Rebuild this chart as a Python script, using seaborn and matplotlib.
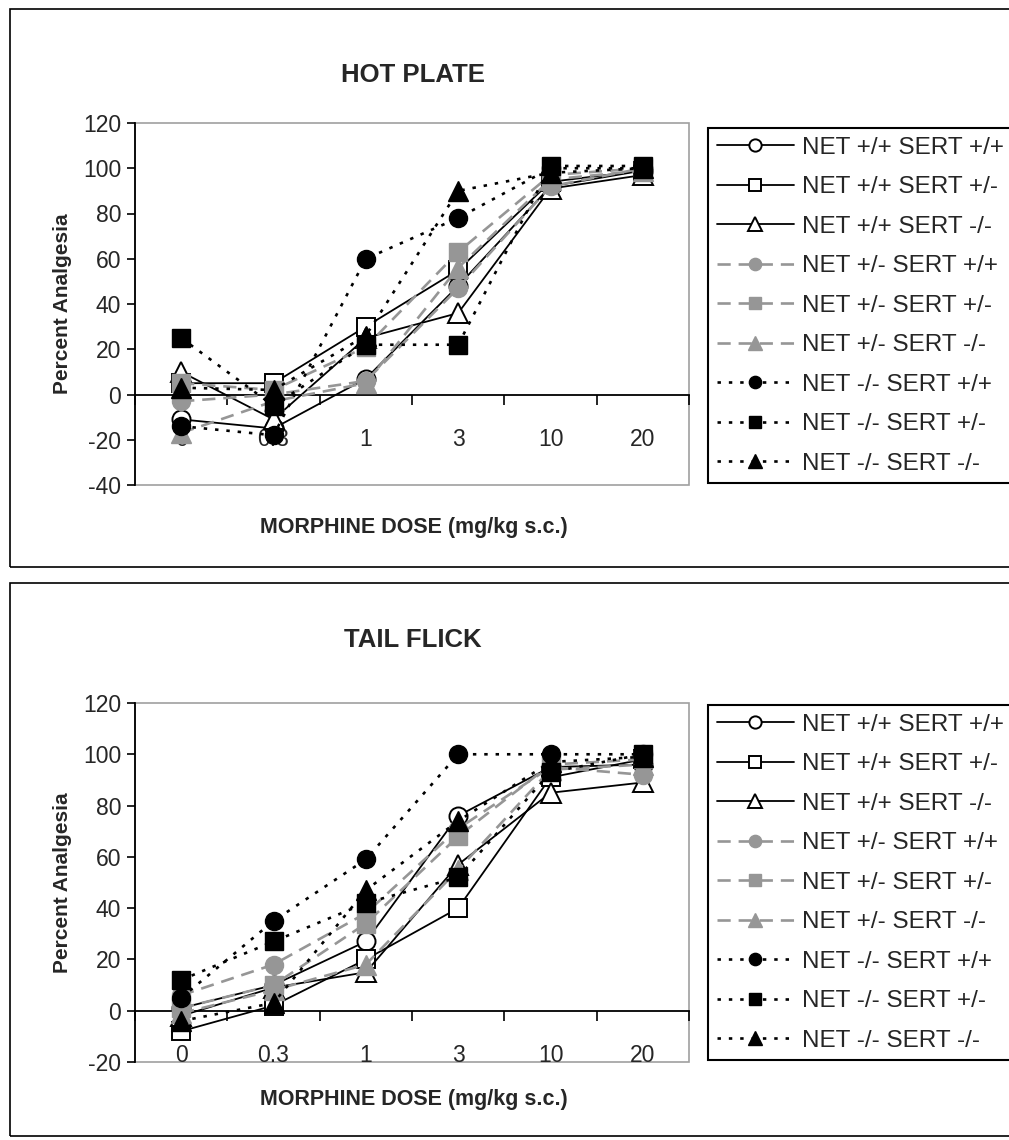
import numpy as np
import pandas as pd
import matplotlib
matplotlib.use("Agg")
import matplotlib.pyplot as plt
from matplotlib.patches import Rectangle
import seaborn as sns

sns.set_theme(style="white")
plt.rcParams['font.family'] = ['Liberation Sans', 'DejaVu Sans']

# ---------------- data ----------------
DOSES = ["0", "0.3", "1", "3", "10", "20"]
GENOTYPES = [
    "NET +/+ SERT +/+", "NET +/+ SERT +/-", "NET +/+ SERT -/-",
    "NET +/- SERT +/+", "NET +/- SERT +/-", "NET +/- SERT -/-",
    "NET -/- SERT +/+", "NET -/- SERT +/-", "NET -/- SERT -/-",
]

# HOT PLATE (percent analgesia)
hp_wt_wt = [-11, -15, 7, 48, 92, 99]
hp_wt_het = [5, 5, 30, 55, 94, 99]
hp_wt_ko = [10, -11, 25, 36, 91, 97]
hp_het_wt = [-3, 0, 6, 47, 92, 100]
hp_het_het = [5, 2, 21, 63, 97, 100]
hp_het_ko = [-17, -3, 5, 56, 95, 99]
hp_ko_wt = [-14, -18, 60, 78, 100, 100]
hp_ko_het = [25, -5, 22, 22, 101, 101]
hp_ko_ko = [3, 2, 26, 90, 98, 100]

# TAIL FLICK (percent analgesia)
tf_wt_wt = [1, 10, 27, 76, 95, 96]
tf_wt_het = [-8, 2, 20, 40, 91, 98]
tf_wt_ko = [-2, 9, 15, 57, 85, 89]
tf_het_wt = [6, 18, 38, 71, 95, 92]
tf_het_het = [1, 10, 34, 68, 96, 98]
tf_het_ko = [-1, 8, 18, 55, 94, 96]
tf_ko_wt = [5, 35, 59, 100, 100, 100]
tf_ko_het = [12, 27, 42, 52, 93, 100]
tf_ko_ko = [-4, 3, 47, 74, 97, 99]

HOT = [hp_wt_wt, hp_wt_het, hp_wt_ko, hp_het_wt, hp_het_het, hp_het_ko,
       hp_ko_wt, hp_ko_het, hp_ko_ko]
TAIL = [tf_wt_wt, tf_wt_het, tf_wt_ko, tf_het_wt, tf_het_het, tf_het_ko,
        tf_ko_wt, tf_ko_het, tf_ko_ko]

# ---------------- styles ----------------
GRAY = "#969696"
MARKERS = ["o", "s", "^"] * 3
styles = []
for i in range(9):
    grp = i // 3
    if grp == 0:
        styles.append(dict(color="black", mfc="white", mec="black",
                           ls="-", lw=1.3, mew=1.4))
    elif grp == 1:
        styles.append(dict(color=GRAY, mfc=GRAY, mec=GRAY,
                           ls=(0, (5, 3)), lw=1.9, mew=1.0))
    else:
        styles.append(dict(color="black", mfc="black", mec="black",
                           ls=(0, (1.3, 3.0)), lw=1.9, mew=1.0))

W, H = 1009, 1140
fig = plt.figure(figsize=(W / 100, H / 100), dpi=100)


def fx(px):
    return px / W


def fy(py):
    return 1 - py / H


def panel(title, series, ylim, yticks, box, ax_px, leg_px, title_y, xlabel_y):
    # outer chart-area frame
    x0, y0, x1, y1 = box
    fig.add_artist(Rectangle((fx(x0), fy(y1)), fx(x1) - fx(x0), fy(y0) - fy(y1),
                             transform=fig.transFigure, fill=False,
                             edgecolor="black", lw=1.2))
    l, t, r, b = ax_px
    ax = fig.add_axes([fx(l), fy(b), fx(r) - fx(l), fy(t) - fy(b)])
    pos = np.arange(len(DOSES))
    for i, (lab, vals) in enumerate(zip(GENOTYPES, series)):
        st = styles[i]
        df = pd.DataFrame({"pos": pos, "val": vals})
        ms = 14 if MARKERS[i] == "^" else 13
        sns.lineplot(data=df, x="pos", y="val", ax=ax, color=st["color"],
                     linestyle=st["ls"], linewidth=st["lw"], marker=MARKERS[i],
                     markersize=ms, markerfacecolor=st["mfc"],
                     markeredgecolor=st["mec"], markeredgewidth=st["mew"],
                     label=lab, zorder=3 + i, legend=False)
    ax.set_xlim(-0.5, len(DOSES) - 0.5)
    ax.set_ylim(*ylim)
    ax.set_yticks(yticks)
    ax.set_yticklabels([str(v) for v in yticks])
    # x axis crossing at y = 0, ticks between categories
    ax.spines["bottom"].set_position(("data", 0))
    ax.set_xticks(np.arange(len(DOSES) + 1) - 0.5)
    ax.set_xticklabels([])
    ax.set_xticks(pos, minor=True)
    ax.set_xticklabels(DOSES, minor=True)
    ax.tick_params(axis="x", which="major", direction="out", length=7,
                   width=1.2, color="black", bottom=True)
    ax.tick_params(axis="x", which="minor", length=0, pad=24, labelsize=16.5)
    ax.tick_params(axis="y", which="major", direction="out", length=6,
                   width=1.2, color="black", left=True, labelsize=16.5, pad=4)
    for s in ["top", "right"]:
        ax.spines[s].set_visible(False)
    ax.spines["left"].set_color("black")
    ax.spines["left"].set_linewidth(1.3)
    ax.spines["bottom"].set_color("black")
    ax.spines["bottom"].set_linewidth(1.3)
    ax.add_patch(Rectangle((0, 0), 1, 1, transform=ax.transAxes, fill=False,
                           edgecolor="#a0a0a0", lw=1.2, zorder=0.5,
                           clip_on=False))
    ax.set_xlabel("")
    ax.set_ylabel("Percent Analgesia", fontsize=15, fontweight="bold",
                  labelpad=8)
    ax.grid(False)
    fig.text(fx(413), fy(title_y), title, ha="center", va="center",
             fontsize=18.5, fontweight="bold")
    fig.text(fx(414), fy(xlabel_y), "MORPHINE DOSE (mg/kg s.c.)", ha="center",
             va="center", fontsize=15.5, fontweight="bold")
    handles, labels = ax.get_legend_handles_labels()
    lx0, ly0, lx1, ly1 = leg_px
    leg = ax.legend(handles, labels, loc="upper left",
                    bbox_to_anchor=(fx(lx0), fy(ly1), fx(lx1) - fx(lx0),
                                    fy(ly0) - fy(ly1)),
                    bbox_transform=fig.transFigure, mode="expand",
                    fontsize=17.5, handlelength=3.2, handletextpad=0.3,
                    labelspacing=0.72, borderpad=0.35, borderaxespad=0,
                    frameon=True, fancybox=False, numpoints=1,
                    markerscale=0.68)
    fr = leg.get_frame()
    fr.set_edgecolor("black")
    fr.set_linewidth(1.5)
    fr.set_alpha(1)
    return ax


panel("HOT PLATE", HOT, (-40, 120), list(range(-40, 121, 20)),
      (10, 9, 1012, 567), (135, 123, 689, 485), (708, 128, 1012, 480), 75, 528)
panel("TAIL FLICK", TAIL, (-20, 120), list(range(-20, 121, 20)),
      (10, 583, 1012, 1136), (135, 703, 689, 1062), (708, 705, 1012, 1062), 640, 1100)

fig.savefig("out.png", dpi=100)
